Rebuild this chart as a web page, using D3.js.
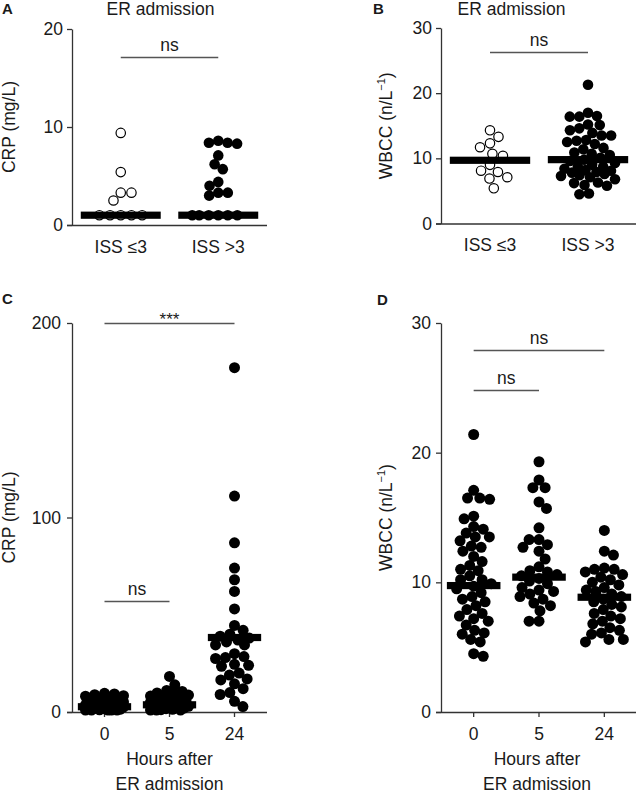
<!DOCTYPE html>
<html lang="en">
<head>
<meta charset="UTF-8">
<title>CRP / WBCC scatter</title>
<script src="https://cdn.jsdelivr.net/npm/d3@7"></script>
<style>
  body { margin: 0; background: #fff; }
  text { font-family: "Liberation Sans", Arial, sans-serif; fill: #1a1a1a; }
</style>
</head>
<body>
<svg id="fig" width="636" height="792"></svg>
<script>
// ---- data ----
var issGroups = ["ISS \u22643", "ISS >3"];
var hourGroups = ["0", "5", "24"];

// A: CRP at ER admission (mg/L)
var crpIssLow = [9.4, 5.4, 3.3, 3.3, 2.5, 1, 1, 1, 1, 1];
var crpIssHigh = [8.6, 8.4, 8.4, 8.3, 7.1, 6.2, 5.7, 4.4, 4.0, 3.3, 3.3, 3.0, 1, 1, 1, 1, 1, 1];
var crpIssMedian = [1.0, 1.0];

// B: WBCC at ER admission
var wbccIssLow = [14.3, 13.3, 12.3, 11.7, 10.7, 10.4, 9.0, 8.1, 7.9, 7.1, 6.9, 5.4];
var wbccIssHigh = [21.3, 17.0, 16.5, 16.4, 16.4, 15.2, 15.1, 14.6, 14.3, 13.9, 13.5, 13.5, 12.8, 12.7,
  12.5, 12.2, 11.6, 11.4, 10.9, 10.7, 10.5, 10.1, 9.8, 9.6, 9.3, 9.0, 8.7, 8.7, 8.4, 8.2, 8.1, 7.9,
  7.8, 7.6, 7.4, 7.3, 7.1, 6.8, 6.3, 6.2, 5.9, 5.8, 4.6, 4.5];
var wbccIssMedian = [9.7, 9.8];

// C: CRP over time
var crp0h = [9.6, 9.3, 8.9, 8.4, 8.1, 7.4, 6.9, 6.3, 5.8, 5.2, 4.9, 4.3, 4.0, 3.7, 3.4, 3.1, 2.9,
  2.7, 2.5, 2.2, 2.0, 1.9, 1.6, 1.4, 1.1, 1.0, 1.0, 1.0, 1.0, 1.0];
var crp5h = [18.3, 14.0, 11.1, 10.6, 9.8, 9.4, 8.7, 8.2, 7.7, 7.1, 6.6, 6.2, 5.6, 5.1, 4.8, 4.2,
  3.9, 3.5, 3.2, 2.9, 2.6, 2.3, 2.0, 1.7, 1.4, 1.2, 1.0, 1.0, 1.0];
var crp24h = [177, 111, 87, 74, 68, 62, 53, 44.5, 42, 40, 39, 38, 37, 36, 34.5, 34.5, 30, 28.5, 28,
  27.5, 24.5, 24, 23.5, 20, 19, 17, 16.5, 14.5, 12, 10, 9, 5.5, 2.8];
var crpHourMedian = [2.7, 3.7, 38.3];

// D: WBCC over time
var wbcc0h = [21.4, 17.1, 16.5, 16.5, 16.4, 15.1, 14.9, 14.3, 14.1, 13.8, 13.5, 13.5, 13.2, 12.8,
  12.7, 12.4, 12.0, 11.6, 11.3, 11.0, 10.9, 10.5, 10.2, 10.2, 9.9, 9.7, 9.5, 9.2, 8.9, 8.7, 8.5,
  8.2, 7.9, 7.6, 7.4, 7.2, 7.0, 6.7, 6.3, 6.1, 6.0, 5.6, 5.4, 4.5, 4.3];
var wbcc5h = [19.3, 17.9, 17.3, 17.3, 16.2, 15.7, 14.2, 13.3, 13.3, 12.9, 12.7, 12.4, 11.8, 11.2,
  10.9, 10.8, 10.6, 10.5, 10.3, 10.1, 9.9, 9.6, 9.4, 9.3, 9.1, 8.9, 8.7, 8.4, 8.2, 7.8, 7.0, 7.0];
var wbcc24h = [14.0, 12.4, 12.1, 11.1, 11.0, 11.0, 10.8, 10.6, 10.4, 10.2, 10.0, 9.8, 9.6, 9.4, 9.3,
  9.1, 8.9, 8.7, 8.5, 8.3, 8.1, 7.9, 7.6, 7.4, 7.2, 7.0, 6.8, 6.5, 6.3, 6.1, 6.0, 5.6, 5.6, 5.4];
var wbccHourMedian = [9.75, 10.4, 8.85];

// significance brackets: [from group, to group, value, label]
var sigA = [["ISS \u22643", "ISS >3", 17.1, "ns"]];
var sigB = [["ISS \u22643", "ISS >3", 26.3, "ns"]];
var sigC = [["0", "24", 200, "***"], ["0", "5", 57, "ns"]];
var sigD = [["0", "24", 27.95, "ns"], ["0", "5", 24.8, "ns"]];

// ---- drawing ----
var svg = d3.select("#fig");
var FS = 17.5;

// beeswarm: place each point as close to the centre as it can go without overlap,
// squeezed in a column of half-width maxHalf (overlap allowed once it is full)
function swarm(values, y, d, maxHalf) {
  var placed = [];
  values.forEach(function(v) {
    var py = y(v);
    var near = placed.filter(function(p) { return Math.abs(p.y - py) < d; });
    var cands = [0];
    near.forEach(function(p) {
      var dx = Math.sqrt(d * d - (p.y - py) * (p.y - py));
      cands.push(p.x + dx, p.x - dx);
    });
    var ok = cands.filter(function(c) {
      return Math.abs(c) <= maxHalf + 1e-6 && near.every(function(p) {
        return (p.x - c) * (p.x - c) + (p.y - py) * (p.y - py) >= d * d - 1e-6;
      });
    });
    var px;
    if (ok.length) {
      var m = d3.min(ok, Math.abs);
      var best = ok.filter(function(c) { return Math.abs(c) - m < 0.01; });
      var right = placed.filter(function(p) { return p.x > 0.01; }).length;
      var left = placed.filter(function(p) { return p.x < -0.01; }).length;
      px = best.length > 1 ? (right <= left ? d3.max(best) : d3.min(best)) : best[0];
    } else {
      var bestScore = -1;
      for (var c = -maxHalf; c <= maxHalf; c += 0.5) {
        var s = d3.min(near, function(p) { return Math.hypot(p.x - c, p.y - py); });
        if (s > bestScore + 1e-6 || (Math.abs(s - bestScore) < 1e-6 && Math.abs(c) < Math.abs(px))) {
          bestScore = s; px = c;
        }
      }
    }
    placed.push({v: v, x: px, y: py});
  });
  return placed;
}

function drawPanel(p) {
  var g = svg.append("g");
  var x = d3.scaleBand().domain(p.groups).range(p.xr);
  var y = d3.scaleLinear().domain([0, p.yMax]).range(p.yr);
  var cx = function(k) { return x(k) + x.bandwidth() / 2; };
  var barW = x.step() * 0.82;

  // y axis
  var ya = g.append("g")
    .attr("transform", "translate(" + p.xr[0] + ",0)")
    .call(d3.axisLeft(y).tickValues(p.ticks).tickSize(5).tickSizeOuter(0).tickPadding(p.yPad));
  // x axis
  var xa = g.append("g")
    .attr("transform", "translate(0," + p.yr[0] + ")")
    .call(d3.axisBottom(x).tickSize(p.xTick).tickSizeOuter(0).tickPadding(p.xPad));
  [ya, xa].forEach(function(a) {
    a.attr("font-size", FS).attr("font-family", null);
    a.selectAll("path, line").attr("stroke", "#333").attr("stroke-width", 1.3);
    a.selectAll("text").attr("fill", "#1a1a1a");
  });
  xa.select(".domain").attr("d", "M" + (p.xr[0] - 5) + ",0.5H" + p.xr[1]);

  // points
  p.series.forEach(function(vals, i) {
    var k = p.groups[i];
    var open = p.open && p.open[i];
    var r = open ? p.r - 0.6 : p.r;
    var pts = swarm(vals, y, open ? 2 * r + 1.3 : 2 * p.r * 0.9, p.maxHalf);
    g.append("g").selectAll("circle")
      .data(pts)
      .enter()
      .append("circle")
      .attr("cx", function(d) { return cx(k) + d.x; })
      .attr("cy", function(d) { return d.y; })
      .attr("r", r)
      .attr("fill", open ? "#fff" : "#000")
      .attr("stroke", "#000")
      .attr("stroke-width", open ? 1.2 : 0);
  });

  // median bars
  g.append("g").selectAll("rect")
    .data(p.medians)
    .enter()
    .append("rect")
    .attr("x", function(d, i) { return cx(p.groups[i]) - barW / 2; })
    .attr("y", function(d) { return y(d) - 3.6; })
    .attr("width", barW)
    .attr("height", 7.2)
    .attr("fill", "#000");

  // significance lines
  p.sig.forEach(function(s) {
    var ly = Math.round(y(s[2])) + 0.5;
    g.append("line")
      .attr("x1", cx(s[0])).attr("x2", cx(s[1]))
      .attr("y1", ly).attr("y2", ly)
      .attr("stroke", "#555").attr("stroke-width", 1.3);
    g.append("text")
      .attr("x", (cx(s[0]) + cx(s[1])) / 2)
      .attr("y", s[3] === "***" ? ly + 1 : ly - 7)
      .attr("text-anchor", "middle")
      .attr("font-size", s[3] === "***" ? 17 : FS)
      .text(s[3]);
  });

  // y label
  var yl = g.append("text")
    .attr("transform", "translate(" + p.ylx + "," + (p.yr[0] + p.yr[1]) / 2 + ") rotate(-90)")
    .attr("text-anchor", "middle")
    .attr("font-size", FS);
  if (p.ylabel === "WBCC") {
    yl.append("tspan").text("WBCC (n/L");
    yl.append("tspan").attr("dy", -7).attr("font-size", 11).text("\u22121");
    yl.append("tspan").attr("dy", 7).text(")");
  } else {
    yl.text(p.ylabel);
  }

  // titles / x labels
  p.texts.forEach(function(t) {
    g.append("text")
      .attr("x", t[0]).attr("y", t[1])
      .attr("text-anchor", "middle")
      .attr("font-size", FS)
      .text(t[2]);
  });

  // panel letter
  g.append("text")
    .attr("x", p.letter[0]).attr("y", p.letter[1])
    .attr("font-size", 15).attr("font-weight", "bold")
    .text(p.id);
}

var panels = [
  {id: "A", letter: [2, 14], groups: issGroups, series: [crpIssLow, crpIssHigh], open: [true, false],
   medians: crpIssMedian, sig: sigA, yMax: 20, ticks: [0, 10, 20], xr: [72, 267], yr: [225, 29],
   yPad: 4, xTick: 0, xPad: 16, r: 5.3, maxHalf: 26, ylabel: "CRP (mg/L)", ylx: 15,
   texts: [[160.5, 14.5, "ER admission"]]},
  {id: "B", letter: [373, 14], groups: issGroups, series: [wbccIssLow, wbccIssHigh], open: [true, false],
   medians: wbccIssMedian, sig: sigB, yMax: 30, ticks: [0, 10, 20, 30], xr: [441, 637], yr: [223.5, 28],
   yPad: 4, xTick: 0, xPad: 15, r: 5.3, maxHalf: 27, ylabel: "WBCC", ylx: 392,
   texts: [[511.5, 14.5, "ER admission"]]},
  {id: "C", letter: [2, 304], groups: hourGroups, series: [crp0h, crp5h, crp24h],
   medians: crpHourMedian, sig: sigC, yMax: 200, ticks: [0, 100, 200], xr: [72, 267], yr: [712, 323],
   yPad: 6, xTick: 5, xPad: 11, r: 5.5, maxHalf: 19, ylabel: "CRP (mg/L)", ylx: 15,
   texts: [[169.5, 765, "Hours after"], [169.5, 789.5, "ER admission"]]},
  {id: "D", letter: [377, 305], groups: hourGroups, series: [wbcc0h, wbcc5h, wbcc24h],
   medians: wbccHourMedian, sig: sigD, yMax: 30, ticks: [0, 10, 20, 30], xr: [441, 637], yr: [712, 323],
   yPad: 5, xTick: 5, xPad: 11, r: 5.5, maxHalf: 19, ylabel: "WBCC", ylx: 392,
   texts: [[537, 765, "Hours after"], [537, 789.5, "ER admission"]]}
];

panels.forEach(drawPanel);
</script>
</body>
</html>
